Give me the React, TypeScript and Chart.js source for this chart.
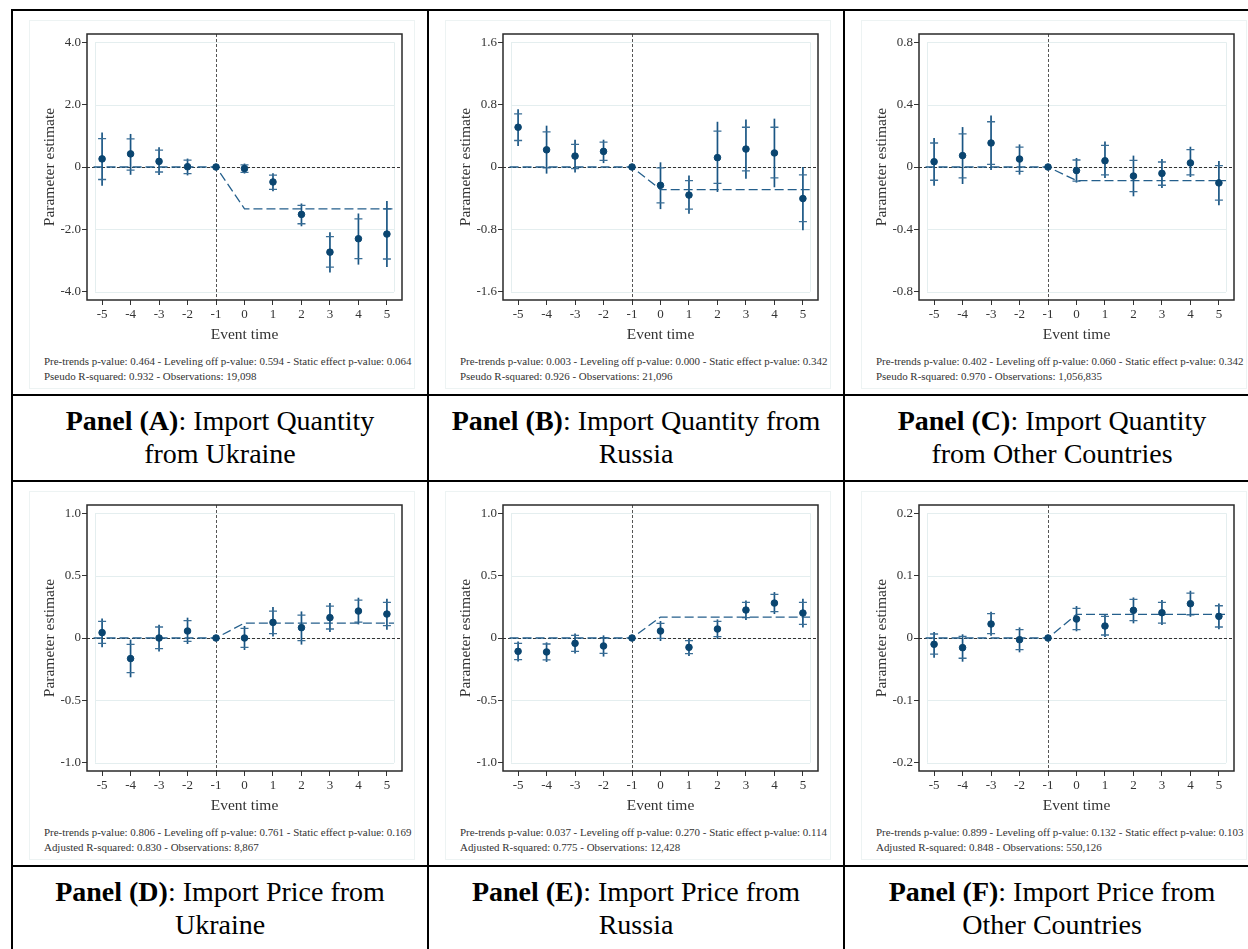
import React, { useEffect, useRef } from "react";
import { Chart, registerables } from "chart.js";

Chart.register(...registerables);

// ---------- shared axis data ----------
const eventTime = [-5, -4, -3, -2, -1, 0, 1, 2, 3, 4, 5];
const xTickLabels = ["-5", "-4", "-3", "-2", "-1", "0", "1", "2", "3", "4", "5"];
const fitX = [-5.3, -1, 0, 5.25];
const gridXLimits = [-5.25, 5.25];
const xRange = [-5.53, 5.53];

// ---------- Panel A ----------
const estA = [0.26, 0.42, 0.18, 0.01, 0, -0.05, -0.48, -1.52, -2.73, -2.3, -2.15];
const hiA = [1.11, 1.06, 0.63, 0.27, 0, 0.11, -0.2, -1.17, -2.09, -1.49, -1.09];
const loA = [-0.6, -0.25, -0.26, -0.27, 0, -0.21, -0.78, -1.9, -3.38, -3.13, -3.21];
const hiInA = [0.91, 0.9, 0.54, 0.22, 0, 0.07, -0.26, -1.23, -2.23, -1.66, -1.34];
const loInA = [-0.4, -0.1, -0.16, -0.21, 0, -0.17, -0.72, -1.82, -3.21, -2.94, -2.95];
const effA = -1.34;
const yTicksA = [-4, -2, 0, 2, 4];
const yLabelsA = ["-4.0", "-2.0", "0", "2.0", "4.0"];

// ---------- Panel B ----------
const estB = [0.51, 0.22, 0.14, 0.2, 0, -0.235, -0.36, 0.12, 0.23, 0.18, -0.405];
const hiB = [0.74, 0.53, 0.35, 0.35, 0, 0.06, -0.11, 0.58, 0.61, 0.62, 0.0];
const loB = [0.27, -0.085, -0.07, 0.05, 0, -0.54, -0.6, -0.32, -0.15, -0.26, -0.81];
const hiInB = [0.68, 0.45, 0.29, 0.32, 0, -0.01, -0.175, 0.46, 0.51, 0.51, -0.1];
const loInB = [0.34, -0.01, -0.02, 0.085, 0, -0.46, -0.54, -0.21, -0.05, -0.14, -0.7];
const effB = -0.29;
const yTicksB = [-1.6, -0.8, 0, 0.8, 1.6];
const yLabelsB = ["-1.6", "-0.8", "0", "0.8", "1.6"];

// ---------- Panel C ----------
const estC = [0.034, 0.073, 0.154, 0.051, 0, -0.023, 0.04, -0.058, -0.041, 0.026, -0.102];
const hiC = [0.186, 0.256, 0.33, 0.145, 0, 0.058, 0.164, 0.073, 0.051, 0.13, 0.038];
const loC = [-0.12, -0.109, -0.02, -0.049, 0, -0.1, -0.07, -0.188, -0.134, -0.064, -0.245];
const hiInC = [0.154, 0.213, 0.29, 0.128, 0, 0.045, 0.139, 0.043, 0.032, 0.111, 0.009];
const loInC = [-0.085, -0.07, 0.017, -0.028, 0, -0.09, -0.05, -0.158, -0.117, -0.051, -0.213];
const effC = -0.087;
const yTicksC = [-0.8, -0.4, 0, 0.4, 0.8];
const yLabelsC = ["-0.8", "-0.4", "0", "0.4", "0.8"];

// ---------- Panel D ----------
const estD = [0.043, -0.165, 0.0, 0.056, 0, 0.0, 0.125, 0.083, 0.163, 0.216, 0.192];
const hiD = [0.157, -0.013, 0.107, 0.163, 0, 0.096, 0.248, 0.213, 0.28, 0.323, 0.315];
const loD = [-0.075, -0.315, -0.109, -0.048, 0, -0.096, 0.013, -0.053, 0.048, 0.109, 0.067];
const hiInD = [0.133, -0.051, 0.088, 0.139, 0, 0.077, 0.216, 0.184, 0.256, 0.304, 0.285];
const loInD = [-0.043, -0.277, -0.085, -0.027, 0, -0.075, 0.035, -0.021, 0.072, 0.128, 0.099];
const effD = 0.12;
const yTicksD = [-1, -0.5, 0, 0.5, 1];
const yLabelsD = ["-1.0", "-0.5", "0", "0.5", "1.0"];

// ---------- Panel E ----------
const estE = [-0.107, -0.112, -0.043, -0.064, 0, 0.056, -0.075, 0.072, 0.224, 0.28, 0.2];
const hiE = [-0.029, -0.035, 0.037, 0.021, 0, 0.136, -0.008, 0.149, 0.301, 0.368, 0.315];
const loE = [-0.189, -0.192, -0.125, -0.149, 0, -0.024, -0.144, -0.008, 0.144, 0.192, 0.085];
const hiInE = [-0.043, -0.048, 0.021, 0.003, 0, 0.117, -0.021, 0.133, 0.285, 0.349, 0.285];
const loInE = [-0.173, -0.176, -0.107, -0.123, 0, -0.003, -0.125, 0.011, 0.163, 0.211, 0.109];
const effE = 0.168;
const yTicksE = [-1, -0.5, 0, 0.5, 1];
const yLabelsE = ["-1.0", "-0.5", "0", "0.5", "1.0"];

// ---------- Panel F ----------
const estF = [-0.0101, -0.0155, 0.0224, -0.0027, 0, 0.0304, 0.0192, 0.0443, 0.0405, 0.055, 0.0347];
const hiF = [0.0096, 0.0059, 0.042, 0.017, 0, 0.0512, 0.0373, 0.065, 0.061, 0.0757, 0.0555];
const loF = [-0.0315, -0.038, 0.0037, -0.023, 0, 0.0107, 0.0016, 0.0235, 0.0208, 0.034, 0.0139];
const hiInF = [0.0064, 0.0027, 0.039, 0.0133, 0, 0.0475, 0.0347, 0.062, 0.057, 0.072, 0.0517];
const loInF = [-0.026, -0.0325, 0.0069, -0.0187, 0, 0.0133, 0.0048, 0.0277, 0.024, 0.0373, 0.0176];
const effF = 0.0379;
const yTicksF = [-0.2, -0.1, 0, 0.1, 0.2];
const yLabelsF = ["-0.2", "-0.1", "0", "0.1", "0.2"];

// ---------- notes & titles ----------
const notesA = [
  "Pre-trends p-value: 0.464 - Leveling off p-value: 0.594 - Static effect p-value: 0.064",
  "Pseudo R-squared: 0.932 - Observations: 19,098",
];
const notesB = [
  "Pre-trends p-value: 0.003 - Leveling off p-value: 0.000 - Static effect p-value: 0.342",
  "Pseudo R-squared: 0.926 - Observations: 21,096",
];
const notesC = [
  "Pre-trends p-value: 0.402 - Leveling off p-value: 0.060 - Static effect p-value: 0.342",
  "Pseudo R-squared: 0.970 - Observations: 1,056,835",
];
const notesD = [
  "Pre-trends p-value: 0.806 - Leveling off p-value: 0.761 - Static effect p-value: 0.169",
  "Adjusted R-squared: 0.830 - Observations: 8,867",
];
const notesE = [
  "Pre-trends p-value: 0.037 - Leveling off p-value: 0.270 - Static effect p-value: 0.114",
  "Adjusted R-squared: 0.775 - Observations: 12,428",
];
const notesF = [
  "Pre-trends p-value: 0.899 - Leveling off p-value: 0.132 - Static effect p-value: 0.103",
  "Adjusted R-squared: 0.848 - Observations: 550,126",
];

const titleBold = ["Panel (A)", "Panel (B)", "Panel (C)", "Panel (D)", "Panel (E)", "Panel (F)"];
const titleLine1 = [
  ": Import Quantity",
  ": Import Quantity from",
  ": Import Quantity",
  ": Import Price from",
  ": Import Price from",
  ": Import Price from",
];
const titleLine2 = ["from Ukraine", "Russia", "from Other Countries", "Ukraine", "Russia", "Other Countries"];

const panels = [
  { est: estA, hi: hiA, lo: loA, hiIn: hiInA, loIn: loInA, eff: effA, yTicks: yTicksA, yLabels: yLabelsA, notes: notesA },
  { est: estB, hi: hiB, lo: loB, hiIn: hiInB, loIn: loInB, eff: effB, yTicks: yTicksB, yLabels: yLabelsB, notes: notesB },
  { est: estC, hi: hiC, lo: loC, hiIn: hiInC, loIn: loInC, eff: effC, yTicks: yTicksC, yLabels: yLabelsC, notes: notesC },
  { est: estD, hi: hiD, lo: loD, hiIn: hiInD, loIn: loInD, eff: effD, yTicks: yTicksD, yLabels: yLabelsD, notes: notesD },
  { est: estE, hi: hiE, lo: loE, hiIn: hiInE, loIn: loInE, eff: effE, yTicks: yTicksE, yLabels: yLabelsE, notes: notesE },
  { est: estF, hi: hiF, lo: loF, hiIn: hiInF, loIn: loInF, eff: effF, yTicks: yTicksF, yLabels: yLabelsF, notes: notesF },
];

const SERIF = "'Liberation Serif', 'Times New Roman', serif";
const POINT = "#0a4570";
const BAR = "#1a5684";
const TICKBAR = "#3a6e96";
const FIT = "#245f8c";

const eventPlugin = {
  id: "eventStudy",
  beforeDatasetsDraw(chart: any, _args: any, opts: any) {
    const p = opts.panel;
    if (!p) return;
    const { ctx, chartArea: a } = chart;
    const x = chart.scales.x;
    const y = chart.scales.y;
    ctx.save();
    // light grid
    ctx.strokeStyle = "#e4eeef";
    ctx.lineWidth = 1;
    const gx0 = x.getPixelForValue(gridXLimits[0]);
    const gx1 = x.getPixelForValue(gridXLimits[1]);
    const gy0 = y.getPixelForValue(p.yTicks[0]);
    const gy1 = y.getPixelForValue(p.yTicks[p.yTicks.length - 1]);
    ctx.beginPath();
    for (const v of p.yTicks) {
      const py = Math.round(y.getPixelForValue(v)) + 0.5;
      ctx.moveTo(gx0, py);
      ctx.lineTo(gx1, py);
    }
    ctx.moveTo(Math.round(gx0) + 0.5, gy0);
    ctx.lineTo(Math.round(gx0) + 0.5, gy1);
    ctx.moveTo(Math.round(gx1) + 0.5, gy0);
    ctx.lineTo(Math.round(gx1) + 0.5, gy1);
    ctx.stroke();
    // zero line
    ctx.setLineDash([3, 2]);
    ctx.strokeStyle = "#333";
    ctx.lineWidth = 1;
    const y0 = Math.round(y.getPixelForValue(0)) + 0.5;
    ctx.beginPath();
    ctx.moveTo(a.left, y0);
    ctx.lineTo(a.right, y0);
    ctx.stroke();
    // vertical at -1
    ctx.strokeStyle = "#555";
    const xv = Math.round(x.getPixelForValue(-1)) + 0.5;
    ctx.beginPath();
    ctx.moveTo(xv, a.top);
    ctx.lineTo(xv, a.bottom);
    ctx.stroke();
    ctx.setLineDash([]);
    // error bars
    for (let i = 0; i < eventTime.length; i++) {
      if (p.hi[i] === p.lo[i]) continue;
      const px = x.getPixelForValue(eventTime[i]);
      ctx.strokeStyle = BAR;
      ctx.lineWidth = 1.7;
      ctx.beginPath();
      ctx.moveTo(px, y.getPixelForValue(p.hi[i]));
      ctx.lineTo(px, y.getPixelForValue(p.lo[i]));
      ctx.stroke();
      ctx.strokeStyle = TICKBAR;
      ctx.lineWidth = 1.3;
      ctx.beginPath();
      for (const v of [p.hiIn[i], p.loIn[i]]) {
        const py = y.getPixelForValue(v);
        ctx.moveTo(px - 4, py);
        ctx.lineTo(px + 4, py);
      }
      ctx.stroke();
    }
    ctx.restore();
  },
  afterDraw(chart: any) {
    const { ctx, chartArea: a } = chart;
    ctx.save();
    ctx.strokeStyle = "#2a2a2a";
    ctx.lineWidth = 1.5;
    ctx.strokeRect(a.left, a.top, a.right - a.left, a.bottom - a.top);
    ctx.restore();
  },
};

function PanelChart({ p }: { p: any }) {
  const ref = useRef<HTMLCanvasElement>(null);
  useEffect(() => {
    if (!ref.current) return;
    const yMax = p.yTicks[p.yTicks.length - 1] * 1.066;
    const fitY = [0, 0, p.eff, p.eff];
    const chart = new Chart(ref.current, {
      type: "scatter",
      data: {
        datasets: [
          {
            type: "scatter",
            data: eventTime.map((t, i) => ({ x: t, y: p.est[i] })),
            backgroundColor: POINT,
            borderColor: POINT,
            pointRadius: 3.3,
            pointHoverRadius: 3.3,
          },
          {
            type: "line",
            data: fitX.map((t, i) => ({ x: t, y: fitY[i] })),
            borderColor: FIT,
            borderWidth: 1.3,
            borderDash: [9, 4],
            pointRadius: 0,
            fill: false,
            tension: 0,
          },
        ],
      } as any,
      options: {
        animation: false,
        responsive: false,
        devicePixelRatio: 1,
        layout: { padding: { left: 8, top: 14, right: 13, bottom: 0 } },
        plugins: {
          legend: { display: false },
          tooltip: { enabled: false },
          eventStudy: { panel: p },
        } as any,
        scales: {
          x: {
            type: "linear",
            min: xRange[0],
            max: xRange[1],
            afterBuildTicks: (s: any) => {
              s.ticks = eventTime.map((v) => ({ value: v }));
            },
            afterFit: (s: any) => {
              s.height = 50;
            },
            ticks: {
              autoSkip: false,
              maxRotation: 0,
              padding: 2,
              color: "#333",
              font: { family: SERIF, size: 13 },
              callback: (_v: any, i: number) => xTickLabels[i],
            },
            grid: { drawOnChartArea: false, color: "transparent", tickColor: "#333", tickLength: 5 },
            border: { display: false },
            title: {
              display: true,
              text: "Event time",
              color: "#333",
              font: { family: SERIF, size: 15.5 },
              padding: { top: 0, bottom: 6 },
            },
          },
          y: {
            type: "linear",
            min: -yMax,
            max: yMax,
            afterBuildTicks: (s: any) => {
              s.ticks = p.yTicks.map((v: number) => ({ value: v }));
            },
            afterFit: (s: any) => {
              s.width = 50;
            },
            ticks: {
              padding: 1,
              color: "#333",
              font: { family: SERIF, size: 13 },
              callback: (_v: any, i: number) => p.yLabels[i],
            },
            grid: { drawOnChartArea: false, color: "transparent", tickColor: "#333", tickLength: 5 },
            border: { display: false },
            title: {
              display: true,
              text: "Parameter estimate",
              color: "#333",
              font: { family: SERIF, size: 15.5 },
              padding: { top: 4, bottom: 0 },
            },
          },
        },
      } as any,
      plugins: [eventPlugin as any],
    });
    return () => chart.destroy();
  }, [p]);
  return <canvas ref={ref} width={386} height={330} style={{ display: "block", width: 386, height: 330 }} />;
}

const LINE = 2;
const colLines = [11, 427, 843, 1259];
const rowLines = [9, 394, 480, 865, 951];

export default function App() {
  const cells: any[] = [];
  panels.forEach((p, idx) => {
    const c = idx % 3;
    const r = Math.floor(idx / 3);
    const left = colLines[c] + LINE;
    const chartTop = rowLines[r * 2] + LINE;
    const titleTop = rowLines[r * 2 + 1] + LINE;
    cells.push(
      <div key={"c" + idx} style={{ position: "absolute", left: left + 16, top: chartTop + 9, width: 386, height: 369 }}>
        <div style={{ position: "absolute", left: 0, top: 0, width: 384, height: 367, border: "1px solid #edf3f3" }} />
        <div style={{ position: "absolute", left: 0, top: 0 }}>
          <PanelChart p={p} />
        </div>
        {p.notes.map((n: string, k: number) => (
          <div
            key={k}
            style={{
              position: "absolute",
              left: 15,
              top: 334 + k * 15,
              fontFamily: SERIF,
              fontSize: 10.95,
              lineHeight: "14px",
              color: "#333",
              whiteSpace: "nowrap",
            }}
          >
            {n}
          </div>
        ))}
      </div>
    );
    cells.push(
      <div
        key={"t" + idx}
        style={{
          position: "absolute",
          left,
          top: titleTop,
          width: 414,
          paddingTop: 8,
          textAlign: "center",
          fontFamily: SERIF,
          fontSize: 28,
          lineHeight: "33px",
          color: "#000",
        }}
      >
        <b>{titleBold[idx]}</b>
        {titleLine1[idx]}
        <br />
        {titleLine2[idx]}
      </div>
    );
  });
  return (
    <div style={{ position: "absolute", left: 0, top: 0, width: 1248, height: 949, overflow: "hidden", background: "#fff" }}>
      {rowLines.map((y, i) => (
        <div key={"h" + i} style={{ position: "absolute", left: colLines[0], top: y, width: 1260, height: LINE, background: "#000" }} />
      ))}
      {colLines.map((x, i) => (
        <div key={"v" + i} style={{ position: "absolute", left: x, top: rowLines[0], width: LINE, height: 960, background: "#000" }} />
      ))}
      {cells}
    </div>
  );
}
